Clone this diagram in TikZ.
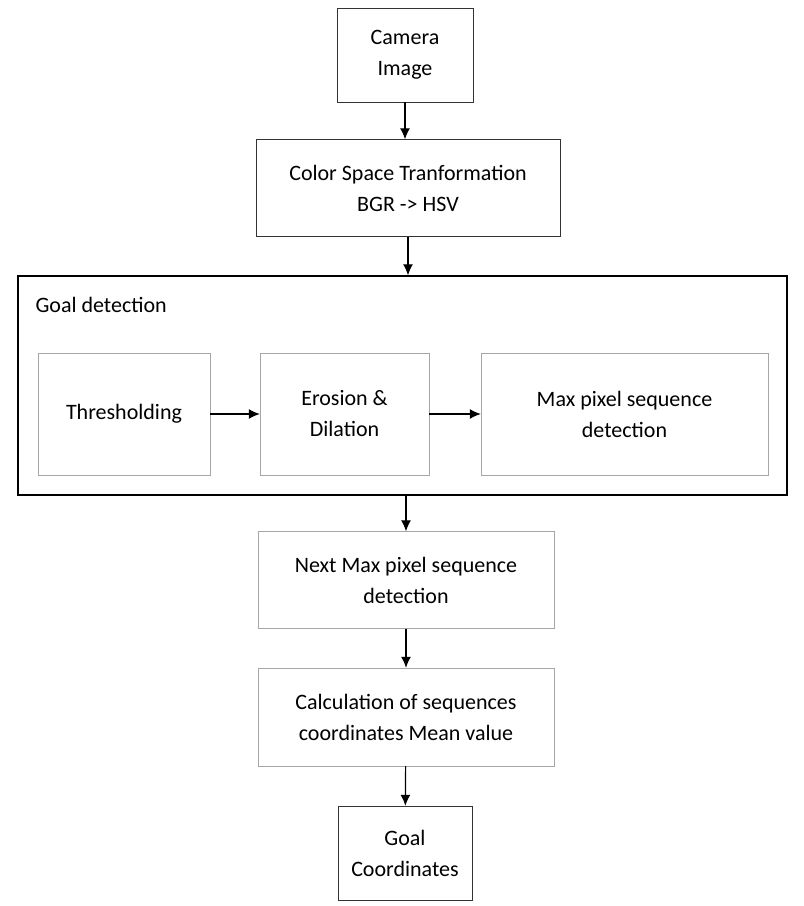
\documentclass[tikz,border=0pt]{standalone}
\usepackage{fontspec}
\setmainfont{Carlito}
\usetikzlibrary{arrows.meta}
\begin{document}
\begin{tikzpicture}[x=1pt,y=-1pt,font=\fontsize{22}{31}\selectfont,
  stage/.style={draw=black!80,thin,align=center,inner sep=0pt},
  substage/.style={draw=black!35,thin,align=center,inner sep=0pt},
  flow/.style={black,line width=1.2pt,-{Latex[length=11pt,width=10pt]}}]
\useasboundingbox (0,0) rectangle (804,906);
% main column
\node[stage,minimum width=136,minimum height=94] (camera) at (405,55) {Camera\\Image};
\node[stage,minimum width=304,minimum height=97] (convert) at (408,188) {Color Space Tranformation\\BGR -> HSV};
\node[draw=black,line width=1.5pt,minimum width=769,minimum height=219,inner sep=0pt] (goal) at (402.5,385.5) {};
\node[anchor=west] (goalL) at (32,305) {Goal detection};
\node[substage,minimum width=172,minimum height=122] (thresh) at (124,414) {Thresholding};
\node[substage,minimum width=169,minimum height=122] (erode) at (344.5,414) {Erosion \&\\Dilation};
\node[substage,minimum width=287,minimum height=122] (maxseq) at (624.5,414) {Max pixel sequence\\detection};
\node[substage,minimum width=296,minimum height=97] (nextseq) at (406,580) {Next Max pixel sequence\\detection};
\node[substage,minimum width=296,minimum height=98] (mean) at (406,717) {Calculation of sequences\\coordinates Mean value};
\node[stage,minimum width=134,minimum height=94] (result) at (405,853) {Goal\\Coordinates};
% connectors
\draw[flow] (camera) -- (camera|-convert.north);
\draw[flow] (convert) -- (convert|-goal.north);
\draw[flow] (thresh) -- (erode);
\draw[flow] (erode) -- (maxseq);
\draw[flow] (goal.south-|nextseq) -- (nextseq);
\draw[flow] (nextseq) -- (mean);
\draw[flow] (mean) -- (result);
\end{tikzpicture}
\end{document}
